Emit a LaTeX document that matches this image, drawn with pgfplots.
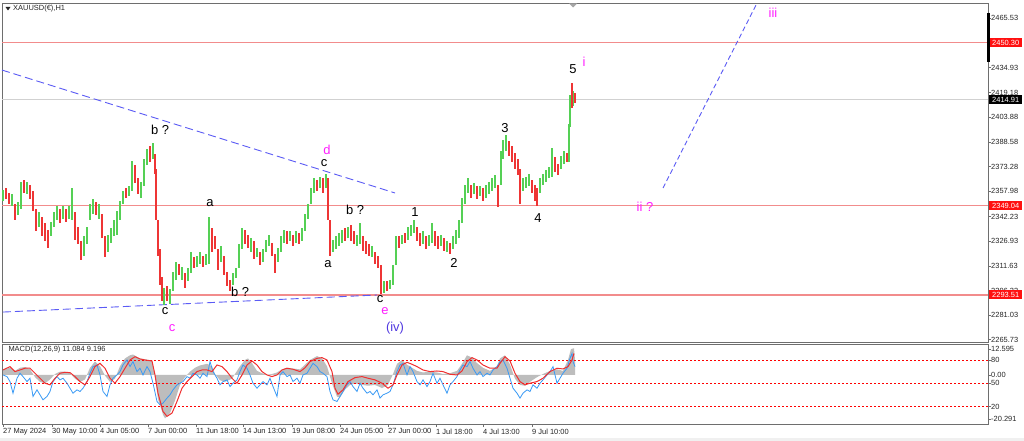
\documentclass[border=0pt]{standalone}
\usepackage{fontspec}
\setmainfont{Liberation Sans}
\usepackage{pgfplots}
\usepackage{pgfplotstable}
\pgfplotsset{compat=1.18}
\definecolor{hline}{HTML}{F28C8C}
\definecolor{cgreen}{HTML}{55D055}
\definecolor{cred}{HTML}{EE3535}
\definecolor{tblue}{HTML}{5B5BF5}
\definecolor{mag}{HTML}{FF1EFF}
\definecolor{ivcol}{HTML}{5038E0}
\definecolor{mblue}{HTML}{3A9AF5}
\definecolor{mred}{HTML}{F03030}
\definecolor{mgrey}{HTML}{BDBDBD}
\definecolor{frame}{HTML}{6E6E6E}
\definecolor{boxred}{HTML}{FF1010}
\newcommand{\wavefont}{\fontsize{13}{13}\selectfont}
\newcommand{\smallfont}{\fontsize{7.5}{8}\selectfont}

% rising candles: x, low, high
\pgfplotstableread{
x lo hi
3 2352 2359
12 2349 2356
18 2343 2351
21 2347 2364
27 2356 2364
39 2336 2345
51 2330 2339
54 2336 2345
57 2340 2349
63 2341 2349
69 2341 2349
72 2340 2360
84 2318 2330
87 2325 2336
90 2340 2350
93 2344 2353
99 2341 2350
108 2320 2331
111 2326 2335
114 2330 2340
117 2331 2346
120 2340 2352
123 2350 2358
129 2355 2361
132 2358 2377
141 2354 2364
144 2361 2378
147 2374 2384
153 2378 2388
164 2287 2298
170 2288 2297
173 2296 2308
176 2303 2314
182 2303 2311
188 2302 2310
191 2307 2320
197 2311 2318
200 2313 2320
206 2312 2319
209 2313 2342
221 2314 2324
233 2300 2307
236 2304 2310
239 2310 2325
242 2322 2335
251 2320 2329
257 2317 2323
263 2314 2322
266 2320 2328
269 2324 2331
278 2314 2323
281 2320 2330
284 2326 2334
290 2327 2333
296 2326 2333
302 2327 2335
305 2333 2344
308 2341 2350
311 2350 2360
314 2357 2366
320 2360 2367
326 2360 2369
333 2320 2328
336 2322 2330
339 2324 2332
342 2326 2334
348 2329 2336
357 2324 2331
360 2325 2338
372 2317 2324
384 2295 2302
390 2297 2303
393 2300 2312
396 2312 2330
402 2325 2331
408 2328 2336
411 2330 2337
414 2332 2340
423 2325 2333
429 2324 2331
432 2326 2338
441 2324 2331
447 2320 2327
453 2322 2330
456 2325 2334
459 2329 2340
462 2338 2354
465 2350 2362
468 2357 2366
474 2356 2363
480 2355 2361
486 2354 2362
489 2356 2364
492 2358 2366
495 2360 2368
501 2362 2383
503 2378 2390
506 2383 2393
523 2358 2366
526 2360 2367
529 2361 2369
540 2357 2366
543 2362 2369
546 2364 2371
549 2366 2373
552 2367 2385
561 2372 2380
564 2375 2383
569 2376 2400
570 2398 2418
573 2411 2420
}\upcandles

% falling candles: x, low, high
\pgfplotstableread{
x lo hi
6 2353 2360
9 2350 2357
15 2340 2350
24 2357 2365
30 2353 2362
33 2346 2358
36 2333 2347
42 2330 2342
45 2327 2338
48 2323 2334
60 2338 2347
66 2339 2347
75 2328 2345
78 2325 2336
81 2315 2327
96 2343 2351
102 2329 2344
105 2317 2330
126 2354 2360
135 2363 2374
138 2356 2366
150 2376 2386
155 2369 2381
156 2340 2372
158 2318 2340
160 2300 2322
162 2290 2305
167 2290 2299
179 2306 2313
185 2298 2307
194 2310 2317
203 2311 2318
212 2320 2335
215 2322 2330
218 2309 2322
224 2306 2318
227 2299 2308
230 2296 2303
245 2325 2334
248 2323 2331
254 2316 2327
260 2312 2320
272 2318 2326
275 2307 2319
287 2325 2333
293 2324 2331
299 2325 2332
317 2358 2365
323 2357 2366
328 2340 2366
330 2318 2340
345 2327 2335
351 2327 2337
354 2325 2333
363 2321 2330
366 2319 2327
369 2318 2325
375 2313 2320
378 2310 2318
381 2294 2312
387 2296 2302
399 2323 2330
405 2326 2332
417 2327 2336
420 2324 2332
426 2322 2330
435 2324 2333
438 2322 2330
444 2321 2329
450 2319 2326
471 2354 2362
477 2353 2361
483 2352 2360
498 2348 2362
509 2380 2389
512 2376 2386
515 2372 2382
518 2368 2378
520 2350 2372
532 2357 2365
535 2352 2362
537 2349 2360
555 2370 2379
558 2368 2375
567 2376 2382
572 2410 2425
575 2413 2419
}\downcandles

% MACD histogram (same scale as the panel; its zero line sits at 60.8)
\pgfplotstableread{
x v
3 68
10 70
15 66
20 70
25 71
30 68
35 58
40 52
45 50
50 55
55 62
60 65
65 65
70 63
75 56
80 52
85 55
90 70
95 78
100 72
105 60
110 52
115 56
120 72
125 82
130 86
133 87
140 82
145 81
152 79
155 58
158 30
163 10
165 5
170 12
175 28
180 48
185 58
190 65
195 70
200 73
207 75
212 72
215 62
220 54
225 52
232 56
240 72
245 80
248 82
252 76
257 66
262 63
267 61
272 62
277 64
282 68
287 70
293 69
300 68
305 74
310 80
317 85
322 82
327 72
332 50
337 33
340 32
345 42
350 48
355 50
362 48
368 47
375 48
382 44
388 48
393 62
397 75
402 80
407 74
412 70
417 66
423 64
430 65
437 64
443 62
450 63
457 66
462 75
467 86
472 83
477 76
483 70
490 66
497 72
500 82
505 86
510 74
515 56
520 48
525 47
530 52
537 58
543 62
550 66
557 68
563 66
568 80
571 94
574 95
575 80
}\macdgrey

\pgfplotstableread{
x v
3 67.2
10 71.5
15 65.1
20 67.2
25 69.4
30 69.4
35 63.0
40 56.6
45 50.2
50 48.1
55 56.6
60 63.0
65 64.2
70 63.8
75 58.7
80 52.3
85 48.1
90 58.7
95 71.5
100 75.7
105 69.4
110 56.6
115 50.2
120 58.7
125 69.4
130 80.0
135 84.2
140 81.3
145 80.0
152 78.7
155 60.8
158 37.4
163 14.0
167 7.7
172 11.9
177 26.8
182 43.8
187 52.3
192 58.7
197 65.1
202 67.2
207 67.2
212 65.1
217 73.6
222 71.5
227 65.1
232 56.6
237 50.2
242 60.8
247 73.6
252 78.7
257 73.6
262 65.1
267 60.8
272 58.7
277 60.8
282 67.2
287 69.4
293 68.1
300 65.1
305 70.0
310 77.9
317 82.1
322 83.0
327 80.0
332 65.1
335 43.8
338 36.1
343 41.7
348 52.3
355 57.4
362 58.7
368 56.6
375 54.5
382 50.2
388 43.8
393 48.1
397 60.8
402 73.6
407 77.0
412 74.5
417 71.5
423 67.2
430 65.1
437 65.9
443 65.1
450 61.7
457 60.8
462 65.9
467 77.9
472 83.0
477 80.0
483 73.6
490 69.4
497 69.4
500 75.7
505 84.2
510 78.7
515 63.0
520 52.3
525 48.1
530 50.2
537 52.3
543 56.6
550 65.1
557 69.4
563 68.5
568 71.5
572 80.0
574 88.5
}\macdred

\pgfplotstableread{
x v
3 60.8
7 58.7
10 52.3
13 37.4
17 56.6
20 63.0
23 58.7
27 52.3
30 56.6
33 33.2
37 41.7
40 35.3
43 28.9
47 33.2
50 39.6
53 52.3
57 58.7
60 54.5
63 56.6
67 50.2
70 43.8
73 37.4
77 41.7
80 39.6
83 43.8
87 52.3
90 63.0
93 71.5
97 73.6
100 60.8
103 39.6
107 33.2
110 48.1
113 56.6
117 60.8
120 65.1
123 73.6
127 80.0
130 71.5
133 77.9
137 65.1
140 69.4
143 60.8
147 71.5
150 65.1
153 50.2
157 26.8
160 22.6
163 24.7
167 31.1
170 35.3
173 41.7
177 48.1
180 50.2
183 52.3
187 58.7
190 56.6
193 63.0
197 60.8
200 56.6
203 63.0
207 58.7
210 77.9
213 65.1
217 56.6
220 48.1
223 52.3
227 54.5
230 45.9
233 50.2
237 54.5
240 65.1
243 73.6
247 69.4
250 60.8
253 50.2
257 43.8
260 48.1
263 52.3
267 48.1
270 56.6
273 45.9
277 33.2
280 60.8
283 65.1
287 58.7
290 60.8
293 52.3
297 56.6
300 50.2
303 60.8
307 63.0
310 69.4
313 75.7
317 71.5
320 65.1
323 63.0
327 58.7
330 39.6
333 28.9
337 26.8
340 33.2
343 39.6
347 48.1
350 52.3
353 45.9
357 39.6
360 50.2
363 43.8
367 37.4
370 39.6
373 35.3
377 41.7
380 31.1
383 35.3
387 37.4
390 39.6
393 48.1
397 65.1
400 73.6
403 75.7
407 60.8
410 71.5
413 65.1
417 52.3
420 48.1
423 54.5
427 45.9
430 52.3
433 63.0
437 50.2
440 56.6
443 48.1
447 37.4
450 48.1
453 52.3
457 58.7
460 67.2
463 73.6
467 71.5
470 77.9
473 69.4
477 60.8
480 65.1
483 58.7
487 63.0
490 60.8
493 67.2
497 71.5
500 77.9
503 80.0
507 69.4
510 56.6
513 43.8
517 37.4
520 31.1
523 37.4
527 41.7
530 39.6
533 48.1
537 43.8
540 50.2
543 54.5
547 60.8
550 65.1
553 71.5
557 50.2
560 56.6
563 63.0
567 69.4
570 82.1
572 88.5
573 77.9
575 71.5
}\macdblue

\begin{document}
\begin{tikzpicture}
\path[use as bounding box, fill=white] (0bp,0bp) rectangle (1024bp,441bp);
\fill[black!6] (0bp,0bp) rectangle (1024bp,3bp);

% ---------------- main price panel ----------------
\begin{axis}[
  at={(2bp,99bp)}, anchor=south west, scale only axis,
  width=986bp, height=339bp,
  xmin=2, xmax=988, ymin=2264.29, ymax=2474.98,
  axis line style={draw=frame, line width=0.8bp},
  xtick=\empty,
  ytick={2465.53,2434.93,2419.18,2403.88,2388.58,2373.28,2357.98,2342.23,2326.93,2311.63,2296.33,2281.03,2265.73},
  yticklabels={2465.53,2434.93,2419.18,2403.88,2388.58,2373.28,2357.98,2342.23,2326.93,2311.63,2296.33,2281.03,2265.73},
  ytick pos=right, yticklabel pos=right,
  tick align=outside, major tick length=3bp,
  tick style={draw=frame, line width=0.6bp},
  yticklabel style={font=\smallfont, text=black!85, anchor=west, xshift=-1bp, inner sep=1bp},
  clip=false,
]
% horizontal levels
\addplot[hline, line width=1.4bp] coordinates {(2,2450.30) (988,2450.30)};
\addplot[hline, line width=1.4bp] coordinates {(2,2349.04) (988,2349.04)};
\addplot[hline, line width=1.4bp] coordinates {(2,2293.51) (988,2293.51)};
\addplot[black!18, line width=1bp] coordinates {(2,2414.91) (988,2414.91)};
% trend lines
\addplot[tblue, line width=0.9bp, dash pattern=on 8bp off 4bp] coordinates {(2,2433.3) (395,2356.9)};
\addplot[tblue, line width=0.9bp, dash pattern=on 8bp off 4bp] coordinates {(3,2282.9) (377,2293.5)};
\addplot[tblue, line width=0.9bp, dash pattern=on 5bp off 3bp] coordinates {(663,2360.0) (757,2474.9)};
% candles
\addplot[draw=none, forget plot,
  error bars/.cd, y dir=both, y explicit, error mark=none,
  error bar style={draw=cgreen, line width=2.5bp}]
  table[x=x, y expr={(\thisrow{lo}+\thisrow{hi})/2}, y error expr={(\thisrow{hi}-\thisrow{lo})/2}] {\upcandles};
\addplot[draw=none, forget plot,
  error bars/.cd, y dir=both, y explicit, error mark=none,
  error bar style={draw=cred, line width=2.5bp}]
  table[x=x, y expr={(\thisrow{lo}+\thisrow{hi})/2}, y error expr={(\thisrow{hi}-\thisrow{lo})/2}] {\downcandles};
% wave labels
\node[font=\wavefont, text=black] at (axis cs:160,2396.0) {b ?};
\node[font=\wavefont, text=black] at (axis cs:210,2350.7) {a};
\node[font=\wavefont, text=black] at (axis cs:165,2283.5) {c};
\node[font=\wavefont, text=mag] at (axis cs:172,2273.0) {c};
\node[font=\wavefont, text=black] at (axis cs:240,2295.4) {b ?};
\node[font=\wavefont, text=mag] at (axis cs:327,2383.6) {d};
\node[font=\wavefont, text=black] at (axis cs:324,2375.5) {c};
\node[font=\wavefont, text=black] at (axis cs:355,2346.3) {b ?};
\node[font=\wavefont, text=black] at (axis cs:328,2312.8) {a};
\node[font=\wavefont, text=black] at (axis cs:415,2345.1) {1};
\node[font=\wavefont, text=black] at (axis cs:454,2313.4) {2};
\node[font=\wavefont, text=black] at (axis cs:380,2291.0) {c};
\node[font=\wavefont, text=mag] at (axis cs:385,2283.5) {e};
\node[font=\wavefont, text=ivcol] at (axis cs:395,2273.0) {(iv)};
\node[font=\wavefont, text=black] at (axis cs:505,2397.3) {3};
\node[font=\wavefont, text=black] at (axis cs:538,2341.3) {4};
\node[font=\wavefont, text=black] at (axis cs:573,2434.0) {5};
\node[font=\wavefont, text=mag] at (axis cs:584,2438.3) {i};
\node[font=\wavefont, text=mag] at (axis cs:645,2348.2) {ii ?};
\node[font=\wavefont, text=mag] at (axis cs:773,2468.8) {iii};
% price boxes
\node[fill=boxred, text=white, font=\smallfont, anchor=west, inner xsep=1.5bp, inner ysep=1bp, minimum height=9bp, minimum width=33bp] at (axis cs:989,2450.30) {2450.30};
\node[fill=black, text=white, font=\smallfont, anchor=west, inner xsep=1.5bp, inner ysep=1bp, minimum height=9bp, minimum width=33bp] at (axis cs:989,2414.91) {2414.91};
\node[fill=boxred, text=white, font=\smallfont, anchor=west, inner xsep=1.5bp, inner ysep=1bp, minimum height=9bp, minimum width=33bp] at (axis cs:989,2349.04) {2349.04};
\node[fill=boxred, text=white, font=\smallfont, anchor=west, inner xsep=1.5bp, inner ysep=1bp, minimum height=9bp, minimum width=33bp] at (axis cs:989,2293.51) {2293.51};
\end{axis}

% ---------------- MACD histogram (overlay axis, zero line at the histogram base) ----------------
\begin{axis}[
  at={(2bp,17bp)}, anchor=south west, scale only axis,
  width=986bp, height=80bp,
  xmin=2, xmax=988, ymin=-62.9, ymax=39.7,
  hide axis,
]
\addplot[fill=mgrey, draw=none] table[x=x, y expr={\thisrow{v}-60.8}] {\macdgrey} \closedcycle;
\end{axis}

% ---------------- MACD panel ----------------
\begin{axis}[
  at={(2bp,17bp)}, anchor=south west, scale only axis,
  width=986bp, height=80bp,
  xmin=2, xmax=988, ymin=-2.1, ymax=100.5,
  axis line style={draw=frame, line width=0.8bp},
  xtick={3,52,100,148,196,243,292,340,388,436,483,532},
  xticklabels={27 May 2024,30 May 10:00,4 Jun 05:00,7 Jun 00:00,11 Jun 18:00,14 Jun 13:00,19 Jun 08:00,24 Jun 05:00,27 Jun 00:00,1 Jul 18:00,4 Jul 13:00,9 Jul 10:00},
  xtick pos=bottom,
  ytick={94,80,60.9,50,20,4.3},
  yticklabels={12.595,80,0.00,50,20,-20.291},
  ytick pos=right, yticklabel pos=right,
  tick align=outside, major tick length=3bp,
  tick style={draw=frame, line width=0.6bp},
  xticklabel style={font=\smallfont, text=black!85, anchor=north west, xshift=-1bp, inner sep=1bp, yshift=-0.5bp},
  yticklabel style={font=\smallfont, text=black!85, anchor=west, xshift=-1bp, inner sep=1bp},
]
\addplot[red, line width=0.7bp, dash pattern=on 2bp off 2bp] coordinates {(2,80) (988,80)};
\addplot[red, line width=0.7bp, dash pattern=on 2bp off 2bp] coordinates {(2,50) (988,50)};
\addplot[red, line width=0.7bp, dash pattern=on 2bp off 2bp] coordinates {(2,20) (988,20)};
\addplot[mblue, line width=0.8bp] table[x=x, y=v] {\macdblue};
\addplot[mred, line width=1bp] table[x=x, y=v] {\macdred};
\node[font=\smallfont, text=black!85, anchor=west] at (axis cs:5,92.8) {MACD(12,26,9) 11.084 9.196};
\end{axis}

% decorations of the terminal window
\fill[black!85] (5.5bp,434bp) -- (10.5bp,434bp) -- (8bp,430.5bp) -- cycle;
\node[font=\smallfont, text=black!85, anchor=west, inner sep=0pt] at (13bp,432bp) {XAUUSD(€),H1};
\fill[black!35] (569bp,437.5bp) -- (577bp,437.5bp) -- (573bp,433.5bp) -- cycle;
\draw[black, line width=2.4bp] (988.5bp,428bp) -- (988.5bp,379bp);
\end{tikzpicture}
\end{document}
